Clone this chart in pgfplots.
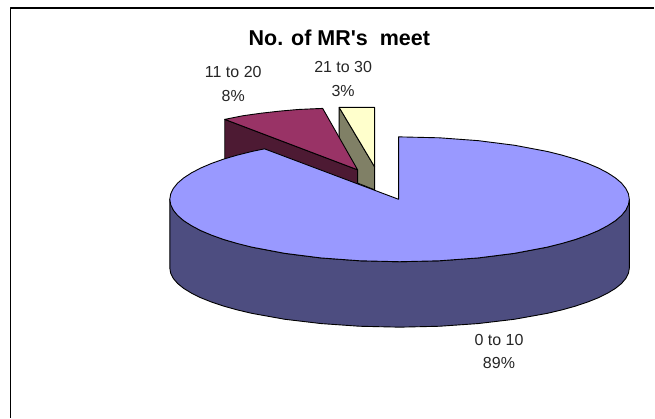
\documentclass[border=0pt]{standalone}
\usepackage{pgfplots}
\pgfplotsset{compat=1.18}
\usepackage{fontspec}
\newfontfamily\arial{Liberation Sans}
\definecolor{mainTop}{HTML}{9999FF}
\definecolor{mainSide}{HTML}{4D4D80}
\definecolor{midTop}{HTML}{993366}
\definecolor{midSide}{HTML}{4D1A33}
\definecolor{smallTop}{HTML}{FFFFCC}
\definecolor{smallSide}{HTML}{808066}
\begin{document}
\begin{tikzpicture}
\begin{axis}[
  scale only axis, width=655pt, height=418pt,
  xmin=0, xmax=655, ymin=0, ymax=418, y dir=reverse,
  hide axis, clip=false,
  every axis plot/.append style={line join=round, line width=0.9pt, draw=black},
]
% page background and the two visible edges of the chart frame
\addplot[fill=white, draw=white, line width=0pt] coordinates {(0,0) (655,0) (655,418) (0,418)} --cycle;
\addplot[draw=black, line width=1.4pt] coordinates {(10.7,418) (10.7,8) (655,8)};

% 21 to 30 slice
\addplot[fill=smallSide] coordinates {(339.5,107.5) (375,167) (375,190) (339.5,176)} --cycle;
\addplot[fill=smallTop] coordinates {(339.5,107.5) (375,107.5) (375,167)} --cycle;

% 11 to 20 slice
\addplot[fill=midSide] coordinates {(225,119.5) (358,170) (358,186) (225,170)} --cycle;
\addplot[fill=midTop] coordinates {(358,170) (225,119.5) (243,115.9) (260.8,113.4) (279.3,111.3) (298.5,109.6) (323,108.5)} --cycle;

% 0 to 10 slice: rim, then top face
\addplot[fill=mainSide] coordinates {
 (630,199.5) (626.5,210.35) (616.1,220.9) (599.2,230.75) (576.2,239.7) (547.8,247.4)
 (515,253.6) (478.7,258.2) (439.9,261.05) (400,262) (360.1,261.05) (321.3,258.2)
 (285,253.6) (252.2,247.4) (223.8,239.7) (200.8,230.75) (183.9,220.9) (173.5,210.35) (170,199.5)
 (170,268.5) (170.9,273.6) (173.5,278.7) (177.8,283.8) (183.9,288.7) (191.6,293.4) (200.8,298)
 (211.6,302.3) (223.8,306.4) (237.4,310.2) (252.2,313.7)
 (285,319.6) (321.3,323.9) (360.1,326.6) (400,327.5) (439.9,326.6) (478.7,323.9)
 (515,319.6) (547.8,313.7) (562.6,310.2) (576.2,306.4) (588.4,302.3) (599.2,298) (608.4,293.4)
 (616.1,288.7) (622.2,283.8) (626.5,278.7) (629.1,273.6) (630,268.5)
} --cycle;
\addplot[fill=mainTop] coordinates {
 (399,199.5) (399,137) (439.9,137.95) (478.7,140.8) (515,145.4) (547.8,151.6) (562.6,155.3) (576.2,159.3)
 (588.4,163.65) (599.2,168.25) (608.4,173.1) (616.1,178.1) (622.2,183.3) (626.5,188.65) (629.1,194.05)
 (630,199.5) (629.1,204.95) (626.5,210.35) (622.2,215.7) (616.1,220.9) (608.4,225.9)
 (599.2,230.75) (588.4,235.35) (576.2,239.7) (562.6,243.7) (547.8,247.4) (515,253.6) (478.7,258.2) (439.9,261.05)
 (400,262) (360.1,261.05) (321.3,258.2) (285,253.6) (252.2,247.4) (237.4,243.7) (223.8,239.7) (211.6,235.35)
 (200.8,230.75) (191.6,225.9) (183.9,220.9) (177.8,215.7) (173.5,210.35) (170.9,204.95) (170,199.5)
 (170.9,194.05) (173.5,188.65) (177.8,183.3) (183.9,178.1) (191.6,173.1)
 (200.8,168.25) (211.6,163.65) (223.8,159.3) (237.4,155.3) (252.2,151.6) (264.8,149)
} --cycle;

% title and slice labels
\node[anchor=base, inner sep=0pt, text=black] at (axis cs:339.7,46) {\arial\bfseries\fontsize{21.5}{24}\selectfont No. of MR's\ \ meet};
\node[anchor=base, inner sep=0pt, text=black!85] at (axis cs:233.5,78) {\arial\fontsize{16}{19}\selectfont 11 to 20};
\node[anchor=base, inner sep=0pt, text=black!85] at (axis cs:233.5,101.5) {\arial\fontsize{16}{19}\selectfont 8\%};
\node[anchor=base, inner sep=0pt, text=black!85] at (axis cs:343.5,73) {\arial\fontsize{16}{19}\selectfont 21 to 30};
\node[anchor=base, inner sep=0pt, text=black!85] at (axis cs:343.5,96.5) {\arial\fontsize{16}{19}\selectfont 3\%};
\node[anchor=base, inner sep=0pt, text=black!85] at (axis cs:499.5,346) {\arial\fontsize{16}{19}\selectfont 0 to 10};
\node[anchor=base, inner sep=0pt, text=black!85] at (axis cs:499.5,369) {\arial\fontsize{16}{19}\selectfont 89\%};
\end{axis}
\end{tikzpicture}
\end{document}
